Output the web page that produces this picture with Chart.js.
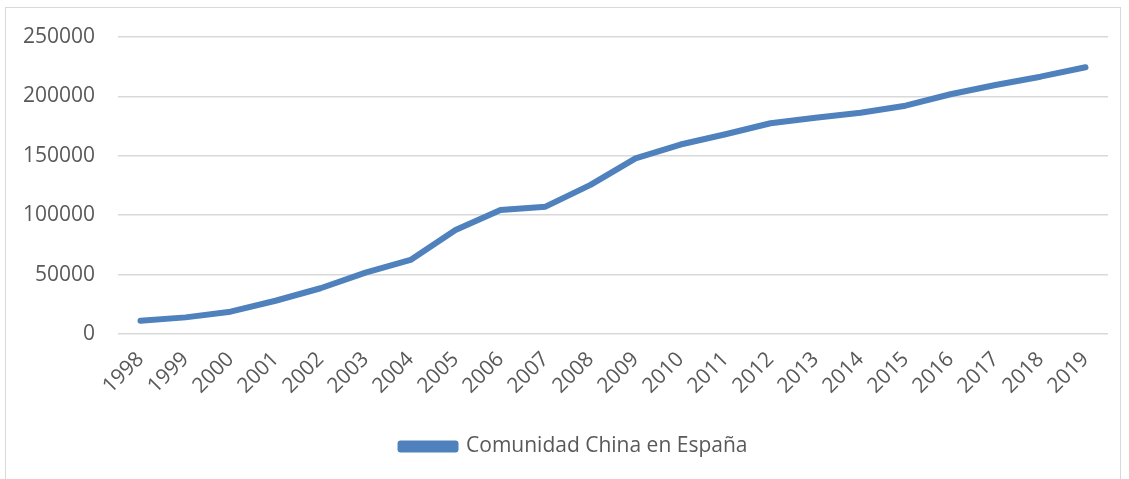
<!DOCTYPE html>
<html>
<head>
<meta charset="utf-8">
<script src="https://cdn.jsdelivr.net/npm/chart.js@4"></script>
<style>
  html, body { margin: 0; padding: 0; background: #fff; }
  #wrap { position: relative; width: 1129px; height: 479px; }
  #frame { position: absolute; left: 5px; top: 7px; width: 1116px; height: 480px; border: 1px solid #d9d9d9; box-sizing: border-box; }
  canvas { position: absolute; left: 0; top: 0; }
</style>
</head>
<body>
<div id="wrap">
  <div id="frame"></div>
  <canvas id="chart" width="1129" height="479"></canvas>
</div>
<script>
// Chinese residents in Spain, by year
const years = ['1998', '1999', '2000', '2001', '2002', '2003', '2004', '2005', '2006', '2007', '2008',
  '2009', '2010', '2011', '2012', '2013', '2014', '2015', '2016', '2017', '2018', '2019'];
const residents = [11200, 14000, 18800, 28000, 38500, 51600, 62300, 87500, 104400, 107200, 125500,
  147900, 159500, 168100, 177400, 182100, 186300, 192200, 201800, 209600, 216600, 224500];
const yTicks = [0, 50000, 100000, 150000, 200000, 250000];

const blue = '#4f81bd';
const grey = '#595959';
const font = "'Open Sans', sans-serif";

// legend sits a little right of the canvas centre, under the plot area
const legendShift = {
  id: 'legendShift',
  beforeDraw(chart) {
    chart.legend.left += 20;
    chart.legend.right += 20;
  }
};

new Chart(document.getElementById('chart'), {
  type: 'line',
  data: {
    labels: years,
    datasets: [{
      label: 'Comunidad China en España',
      data: residents,
      borderColor: blue,
      backgroundColor: blue,
      borderWidth: 6,
      borderCapStyle: 'round',
      borderJoinStyle: 'round',
      pointRadius: 0,
      tension: 0
    }]
  },
  plugins: [legendShift],
  options: {
    responsive: false,
    animation: false,
    layout: { padding: { left: 0, right: 21, top: 37, bottom: 12 } },
    plugins: {
      tooltip: { enabled: false },
      legend: {
        position: 'bottom',
        labels: {
          color: grey,
          font: { family: font, size: 21 },
          boxWidth: 55,
          boxHeight: 6,
          padding: 10
        }
      }
    },
    scales: {
      x: {
        offset: true,
        grid: { display: false },
        border: { display: false },
        ticks: {
          color: grey,
          font: { family: font, size: 21 },
          autoSkip: false,
          minRotation: 45,
          maxRotation: 45,
          padding: 5
        },
        afterFit: s => { s.height = 92; }
      },
      y: {
        min: yTicks[0],
        max: yTicks[yTicks.length - 1],
        afterBuildTicks: s => { s.ticks = yTicks.map(v => ({ value: v })); },
        grid: { color: '#d9d9d9', lineWidth: 1.5, drawTicks: false },
        border: { display: false },
        ticks: {
          color: grey,
          font: { family: font, size: 21 },
          padding: 23,
          callback: v => String(v)
        },
        afterFit: s => { s.width = 118; }
      }
    }
  }
});
</script>
</body>
</html>
